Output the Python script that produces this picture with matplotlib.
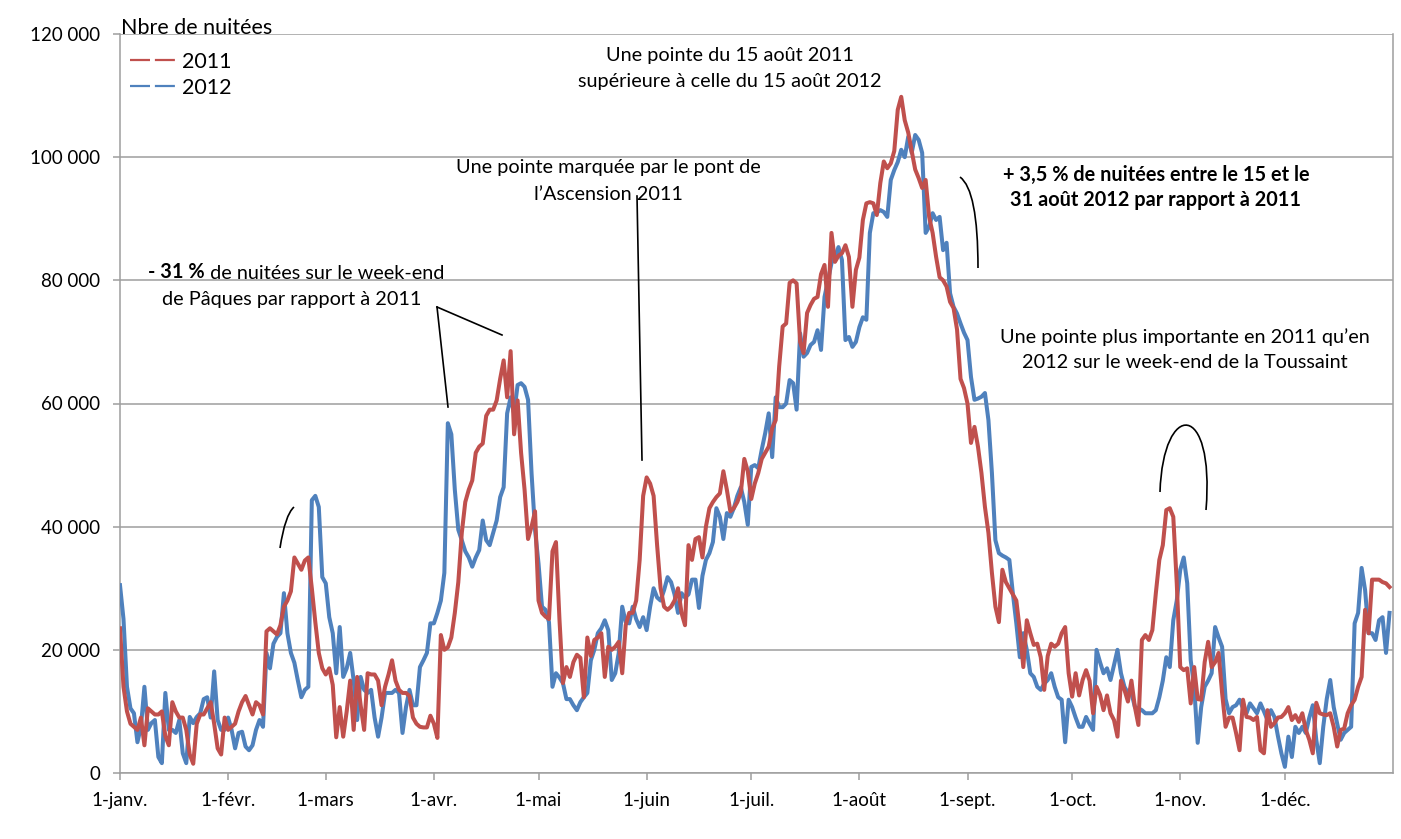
import matplotlib
matplotlib.use("Agg")
import matplotlib.pyplot as plt
import numpy as np
import pandas as pd
from matplotlib.lines import Line2D
from matplotlib.patches import PathPatch
from matplotlib.path import Path
from matplotlib.ticker import FuncFormatter

W, H = 1401, 839
plt.rcParams["font.family"] = ["Lato", "DejaVu Sans"]

RED = "#C0504D"
BLUE = "#4F81BD"
GRID = "#9E9E9E"

# Daily nights (thousands)
nuitees_2011 = [
    # janv.
    23.5, 14, 10, 8, 7.5, 7, 9, 4.5, 10.5, 10, 9.5, 9.5, 10, 6, 4.5, 11.5, 10, 9, 9, 7,
    3, 1.5, 8, 9.5, 9.5, 10.5, 11.5, 8, 4, 3, 9,
    # févr.
    7, 7.5, 8, 10, 11.5, 12.5, 11, 9.5, 11.5, 11, 9.5, 23, 23.5, 23, 22.5, 24, 27, 28, 29.5, 35,
    34, 33, 34.5, 35, 30, 24.5, 19.5, 17,
    # mars
    16, 17, 14.3, 5.8, 10.7, 5.9, 10, 15, 7, 15.6, 11, 7, 16.2, 16, 16, 15, 11, 14, 16, 18.3,
    15, 13.5, 13, 13, 12.5, 9, 8, 7.5, 7.4, 7.4, 9.3,
    # avr.
    8, 5.7, 22.4, 20, 20.4, 22, 26, 31, 39, 44, 46, 47.5, 52, 53, 53.5, 58, 59, 59, 60.5, 64,
    67, 61, 68.5, 55, 60.5, 52, 46, 38, 40, 42.5,
    # mai
    28, 26, 25.4, 25, 36, 37.5, 25, 14.6, 17.2, 15.6, 18, 19.2, 18.7, 12.3, 22, 19, 21.6, 22, 22.7, 15.6,
    20.5, 20, 20.5, 21.3, 16.2, 24, 26, 26, 28, 34.6, 45,
    # juin
    48, 47, 45, 37, 30, 27, 26.5, 27, 28, 30, 26, 24, 37, 34.6, 38, 38.3, 35, 40, 43, 44,
    44.8, 45.4, 49, 46, 42.5, 43, 44, 45.5, 51, 49,
    # juil.
    44.5, 47, 48.7, 51, 52, 53, 56, 57.3, 66, 72.5, 73, 79.6, 80, 79.5, 70, 68.2, 74.7, 76, 77, 77.3,
    81, 82.5, 75.7, 87.7, 83, 84, 84.4, 85.7, 83.8, 75.7, 81.7,
    # août
    83.7, 89.8, 92.5, 92.7, 92.5, 90.6, 95.8, 99.3, 98.2, 99, 101, 107.7, 109.8, 106, 104, 101, 98, 96.6, 95, 96.3,
    90.3, 87.7, 83.8, 80.5, 80, 79, 76.5, 75.5, 72, 64, 62.5,
    # sept.
    60, 53.6, 56.2, 53, 48.7, 43.2, 39, 32.5, 27, 24.5, 33, 31, 30, 29, 28, 23.2, 17.2, 24.8, 22.7, 20.8,
    21, 18.8, 13.5, 19, 21, 20.5, 21, 22.7, 23.7, 16.2,
    # oct.
    12.4, 16.2, 12.6, 15.1, 16.7, 15, 9.7, 14, 12.7, 10.2, 12.6, 9.7, 8.6, 5.9, 15, 13.5, 11.6, 15, 10.7, 7.8,
    21.6, 22.4, 21.6, 23.2, 29.2, 34.6, 37, 42.7, 43, 41.6, 30.8,
    # nov.
    17.2, 16.7, 17, 11.3, 17.2, 12, 11.9, 18, 21.3, 17.2, 18, 19.5, 13, 7.5, 9, 9, 6.5, 3.7, 11.9, 9.1,
    9, 8.6, 9.1, 3.7, 3.2, 10.2, 7.5, 8.1, 9, 9.1,
    # déc.
    9.7, 10.7, 8.6, 9.4, 8.3, 9.7, 7, 5.4, 3.2, 11.4, 9.7, 9.5, 9.4, 9.7, 7.5, 4.3, 7, 7.2, 9.7, 11,
    11.9, 14, 15.6, 26.5, 22.7, 31.4, 31.4, 31.4, 31, 30.8, 30.2,
]

nuitees_2012 = [
    # janv.
    30.5, 25, 14, 10.5, 9.7, 5, 7.5, 14, 7, 8.1, 8.6, 2.6, 1.6, 13, 7, 7, 6.5, 8.6, 3.2, 1.6,
    9.1, 8.1, 9.1, 9.7, 12, 12.3, 9, 16.5, 8.6, 7, 7,
    # févr.
    9, 7, 4, 6.5, 6.7, 4.3, 3.7, 4.5, 7, 8.6, 7.5, 19.5, 17, 21, 22.1, 22.7, 29.2, 22.7, 19.5, 17.9,
    15, 12.3, 13.5, 14, 44.3, 45, 43.2, 31.8,
    # mars
    30.8, 25.3, 22.7, 16.2, 23.7, 15.6, 17, 19.5, 15, 8.6, 15.6, 13.5, 13, 13.5, 9, 5.9, 9, 13, 13, 13,
    13.5, 13, 6.5, 10.7, 13.5, 11, 11, 17.2, 18.3, 19.5, 24.3,
    # avr.
    24.3, 26, 28, 32.5, 56.8, 55, 46, 39.5, 37.8, 36, 35, 33.5, 35, 36.2, 41, 37.8, 37, 39, 41, 44.8,
    46.4, 58.4, 61, 58.4, 63, 63.3, 62.7, 60.6, 48.7, 39.5,
    # mai
    34, 27, 26.5, 24.5, 14, 16.2, 15.5, 14.6, 12, 12, 11, 10.2, 11.5, 12.3, 13, 18.3, 20, 22.7, 23.5, 24.8,
    23.2, 15.1, 16.2, 19.5, 27, 24.5, 24.3, 27, 25, 23.7, 25.3,
    # juin
    23.2, 27, 30, 28.5, 28, 29.7, 31.8, 31, 29, 26, 29.2, 28.5, 29, 31.4, 31.4, 26.8, 32, 34.6, 35.7, 37.5,
    43, 41.6, 38, 42.2, 41.6, 43, 45, 46.4, 44, 40.3,
    # juil.
    49.7, 50, 49.5, 52.5, 55.2, 58.4, 51.3, 61, 59.4, 59.4, 60, 63.8, 63.3, 59, 71.4, 67.6, 68.2, 69.5, 70, 71.9,
    68.7, 77.3, 80, 82.8, 83.8, 85.4, 83.3, 70.3, 70.8, 69.2, 70,
    # août
    72.4, 74, 73.6, 87.7, 90.9, 91, 91.4, 91.1, 90.3, 96.3, 97.9, 99.2, 101.2, 100, 103.3, 100.7, 103.6, 102.8, 100.7, 87.7,
    88.7, 90.9, 89.8, 90.3, 84.9, 86.1, 77.9, 75.7, 74.6, 73, 71.5,
    # sept.
    70.3, 64.3, 60.6, 60.8, 61.1, 61.7, 57.3, 48.7, 37.8, 35.7, 35.3, 35, 34.6, 29.2, 24.3, 18.8, 22.7, 20, 16.2, 15.6,
    14, 13.5, 14.5, 15.1, 16.2, 14, 12.3, 11.9, 5, 11.9,
    # oct.
    10.7, 9, 7.5, 7.5, 9.1, 8, 7, 20, 18, 16.2, 17, 15.1, 17.5, 20, 16.2, 14, 13, 13, 10.7, 10.5,
    10.2, 9.7, 9.7, 9.7, 10.2, 12.3, 15, 18.8, 17.2, 24.8, 28,
    # nov.
    33, 35, 30.8, 18.3, 14, 4.9, 10.7, 14, 15, 16.2, 23.7, 22, 20.5, 12, 9.7, 10.7, 11, 11.9, 10.5, 9.7,
    11.3, 10.5, 9.7, 11.3, 10, 8.6, 10.2, 9.1, 6, 3.2,
    # déc.
    1, 5.9, 2.6, 7.5, 6.5, 7.5, 6.5, 9, 11, 5.4, 1.6, 7.5, 12, 15.1, 10.7, 8, 5.4, 6.5, 7, 7.5,
    24.3, 26, 33.3, 29.7, 22.7, 22.7, 21.6, 24.8, 25.3, 19.5, 26,
]

month_labels = ["1-janv.", "1-févr.", "1-mars", "1-avr.", "1-mai", "1-juin",
                "1-juil.", "1-août", "1-sept.", "1-oct.", "1-nov.", "1-déc."]
y_ticks = [0, 20000, 40000, 60000, 80000, 100000, 120000]


def fx(x):
    return x / W


def fy(y):
    return 1 - y / H


days = pd.date_range("2011-01-01", periods=len(nuitees_2011), freq="D")
month_starts = pd.date_range("2011-01-01", periods=12, freq="MS")

fig = plt.figure(figsize=(W / 100, H / 100), dpi=100, facecolor="white")
ax = fig.add_axes([fx(120), fy(773), fx(1393) - fx(120), fy(34) - fy(773)])

ax.plot(days, np.array(nuitees_2012) * 1000, color=BLUE, lw=2.9,
        solid_joinstyle="round", zorder=3)
ax.plot(days, np.array(nuitees_2011) * 1000, color=RED, lw=2.9,
        solid_joinstyle="round", zorder=4)

ax.set_xlim(pd.Timestamp("2011-01-01"), pd.Timestamp("2012-01-01"))
ax.set_ylim(0, 120000)
ax.set_xticks(month_starts)
ax.set_xticklabels(month_labels)
ax.set_yticks(y_ticks)
ax.yaxis.set_major_formatter(FuncFormatter(lambda v, _: f"{int(v):,}".replace(",", " ")))
ax.tick_params(axis="both", labelsize=13.5, color=GRID, length=5, width=1.1, pad=9)
ax.yaxis.grid(True, color=GRID, lw=1.1)
ax.set_axisbelow(True)
for side in ["left", "bottom", "right"]:
    ax.spines[side].set_color(GRID)
    ax.spines[side].set_linewidth(1.1)
ax.spines["top"].set_visible(False)

# legend
fig.text(fx(121), fy(28), "Nbre de nuitées", fontsize=15.5, ha="left", va="center")
handles = [
    Line2D([], [], color=RED, lw=1.6, dashes=(9, 2.2)),
    Line2D([], [], color=BLUE, lw=1.6, dashes=(9, 2.2)),
]
fig.legend(handles, ["2011", "2012"], loc="upper left",
           bbox_to_anchor=(fx(130), fy(52)), frameon=False, fontsize=15.5,
           handlelength=2.1, handletextpad=0.3, labelspacing=0.27, borderpad=0,
           borderaxespad=0)

# annotations
txt = dict(fontsize=14.3, ha="center", va="center")
fig.text(fx(730), fy(55), "Une pointe du 15 août 2011", **txt)
fig.text(fx(730), fy(81), "supérieure à celle du 15 août 2012", **txt)
fig.text(fx(608), fy(168), "Une pointe marquée par le pont de", **txt)
fig.text(fx(608), fy(195), "l’Ascension 2011", **txt)
fig.text(fx(1156), fy(175), "+ 3,5 % de nuitées entre le 15 et le", fontweight="bold", **txt)
fig.text(fx(1156), fy(200), "31 août 2012 par rapport à 2011", fontweight="bold", **txt)
fig.text(fx(1185), fy(337), "Une pointe plus importante en 2011 qu’en", **txt)
fig.text(fx(1185), fy(363), "2012 sur le week-end de la Toussaint", **txt)

bold_part = fig.text(fx(148), fy(272), "- 31 %", fontsize=14.3, fontweight="bold",
                     ha="left", va="center")
ax.annotate(" de nuitées sur le week-end", xy=(1, 0), xycoords=bold_part,
            fontsize=14.3, ha="left", va="bottom")
fig.text(fx(292), fy(299), "de Pâques par rapport à 2011", **txt)

# hand-drawn marks
ink = dict(color="black", lw=1.2, transform=fig.transFigure)
fig.add_artist(Line2D([fx(437), fx(448)], [fy(307), fy(407)], **ink))
fig.add_artist(Line2D([fx(437), fx(502)], [fy(307), fy(335)], **ink))
fig.add_artist(Line2D([fx(637), fx(642)], [fy(196), fy(460)], **ink))


def curve(points, codes):
    verts = [(fx(x), fy(y)) for x, y in points]
    fig.add_artist(PathPatch(Path(verts, codes), fill=False, edgecolor="black",
                             lw=1.2, transform=fig.transFigure))


curve([(280, 548), (285, 515), (294, 507)], [Path.MOVETO, Path.CURVE3, Path.CURVE3])
curve([(960, 177), (978, 190), (978, 268)], [Path.MOVETO, Path.CURVE3, Path.CURVE3])
curve([(1160, 492), (1163, 400), (1215, 400), (1206, 510)],
      [Path.MOVETO, Path.CURVE4, Path.CURVE4, Path.CURVE4])

fig.savefig("out.png", dpi=100, facecolor="white")
